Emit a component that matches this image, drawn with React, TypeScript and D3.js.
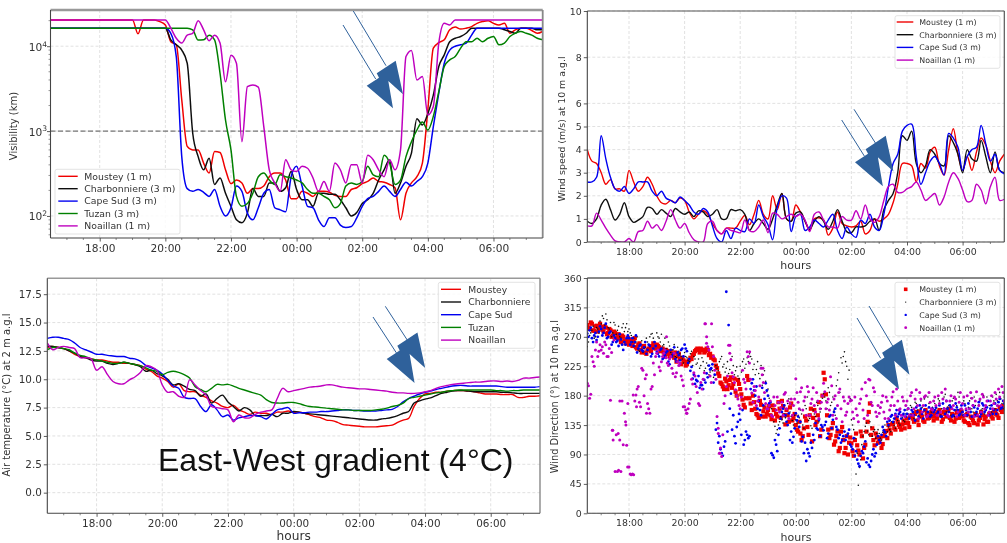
import React, { useEffect, useRef } from 'react';
import * as d3 from 'd3';

// every line series is one value per 10 min from 16:30 to 07:30, rows are clock hours
const visMoustey = [
  20400, 20400, 20400,
  20400, 20400, 20400, 20400, 20400, 20400,
  20400, 20400, 20400, 20400, 20400, 20400,
  20400, 14000, 20400, 20400, 20400, 19500,
  17800, 11300, 10400, 2340, 660, 600,
  600, 420, 320, 575, 560, 350,
  240, 265, 245, 185, 210, 210,
  225, 290, 320, 320, 265, 160,
  160, 195, 185, 170, 195, 195,
  190, 175, 170, 170, 205, 215,
  240, 255, 280, 255, 250, 235,
  215, 90, 185, 245, 290, 420,
  1790, 9500, 11000, 11900, 15600, 16800,
  15900, 16300, 17000, 18600, 19500, 20000,
  18600, 17800, 18600, 14200, 15600, 16300,
  16300, 15300, 14200, 14900,
];
const visCharbonniere = [
  16300, 16300, 16300,
  16300, 16300, 16300, 16300, 16300, 16300,
  16300, 16300, 16300, 16300, 16300, 16300,
  16300, 16300, 16300, 16300, 16300, 16300,
  16300, 11900, 10400, 9000, 6300, 950,
  500, 350, 480, 235, 280, 185,
  130, 90, 83, 108, 210, 170,
  170, 245, 245, 195, 215, 335,
  205, 155, 155, 130, 185, 185,
  180, 180, 155, 125, 100, 110,
  140, 155, 185, 265, 350, 460,
  185, 245, 385, 550, 1400, 1180,
  1600, 2650, 5760, 7900, 11300, 12400,
  13000, 14200, 16300, 16300, 16300, 16300,
  16300, 16300, 15600, 14900, 14200, 16300,
  16300, 16300, 15600, 15600,
];
const visCapeSud = [
  16300, 16300, 16300,
  16300, 16300, 16300, 16300, 16300, 16300,
  16300, 16300, 16300, 16300, 16300, 16300,
  16300, 16300, 16300, 16300, 16300, 16300,
  16300, 14200, 7550, 500, 210, 195,
  205, 190, 170, 205, 130, 100,
  125, 225, 195, 108, 90, 125,
  185, 205, 125, 118, 112, 290,
  385, 225, 130, 125, 90, 75,
  95, 95, 78, 73, 75, 95,
  130, 160, 170, 195, 225, 195,
  170, 205, 250, 225, 255, 290,
  420, 1130, 2800, 6300, 9000, 10000,
  10400, 10900, 13500, 16300, 16300, 16300,
  16300, 16300, 16300, 16300, 16300, 16300,
  16300, 16300, 16300, 16300,
];
const visTuzan = [
  16300, 16300, 16300,
  16300, 16300, 16300, 16300, 16300, 16300,
  16300, 16300, 16300, 16300, 16300, 16300,
  16300, 16300, 16300, 16300, 16300, 16300,
  16300, 16300, 16300, 16300, 16300, 15600,
  11800, 11900, 13500, 11900, 4800, 1350,
  600, 170, 130, 140, 185, 290,
  320, 265, 235, 305, 290, 280,
  265, 245, 205, 185, 185, 170,
  155, 125, 140, 225, 245, 235,
  255, 385, 305, 290, 520, 420,
  235, 265, 500, 750, 1030, 1280,
  1030, 1490, 2920, 5760, 6900, 7550,
  9500, 11300, 11300, 12400, 11300, 12400,
  13000, 10400, 10900, 13000, 14200, 14900,
  14200, 13500, 12400, 11900,
];
const visNoaillan = [
  20400, 20400, 20400,
  20400, 20400, 20400, 20400, 20400, 20400,
  20400, 20400, 20400, 20400, 20400, 20400,
  20400, 20400, 20400, 20400, 20400, 20400,
  20400, 16300, 12400, 10900, 13500, 14200,
  20000, 15600, 11600, 13500, 10900, 3800,
  7800, 6300, 750, 3340, 3500, 3300,
  1130, 350, 245, 195, 460, 350,
  335, 385, 365, 280, 195, 255,
  195, 420, 350, 245, 400, 400,
  245, 520, 460, 350, 290, 460,
  350, 600, 7550, 8900, 4000, 4400,
  1550, 1950, 10900, 18600, 17800, 20400,
  20400, 20400, 20400, 20400, 20400, 20400,
  20400, 20400, 20400, 20400, 20400, 20400,
  20400, 20400, 20400, 20400,
];

const windMoustey = [
  4.0, 3.5, 3.4,
  3.0, 2.5, 2.7, 2.3, 2.3, 2.2,
  3.1, 2.6, 2.2, 2.4, 2.8, 2.5,
  2.0, 1.7, 1.65, 1.8, 1.7, 1.9,
  1.8, 1.3, 1.0, 1.2, 1.35, 1.2,
  0.8, 0.5, 0.35, 0.6, 0.6, 0.6,
  0.9, 1.15, 0.75, 1.2, 1.8, 1.2,
  1.0, 2.0, 1.4, 2.1, 1.0, 0.9,
  1.6, 1.3, 0.9, 0.5, 1.0, 1.05,
  0.95, 0.3, 0.6, 1.3, 0.8, 0.7,
  0.65, 0.7, 0.9, 0.35, 0.5, 1.0,
  0.9, 1.0, 1.2, 1.7, 2.5, 3.4,
  3.4, 3.3, 2.6, 3.4, 3.2, 3.9,
  4.1, 3.3, 2.9, 4.0, 4.9, 3.8,
  3.1, 3.7, 3.1, 3.9, 4.5, 4.2,
  3.5, 3.0, 3.5, 3.8,
];
const windCharbonniere = [
  0.9, 0.8, 1.0,
  1.6, 1.85, 1.4, 0.95, 1.2, 1.7,
  1.1, 0.85, 0.95, 1.1, 1.5, 1.45,
  1.2, 1.4, 1.25, 1.1, 1.45, 1.3,
  1.2, 1.3, 1.1, 1.35, 1.3, 1.1,
  1.2, 1.4, 1.0, 1.0, 1.4, 1.35,
  1.4, 1.2, 0.5, 0.8, 1.0, 0.8,
  0.55, 1.0, 1.6, 2.1, 1.0, 0.9,
  1.25, 1.3, 0.9, 0.55, 0.9, 1.1,
  0.9, 0.55, 0.9, 1.4, 0.9, 0.45,
  0.4, 0.65, 0.65, 0.7, 0.9, 1.0,
  0.5, 1.4, 1.8, 2.1, 3.0, 4.6,
  4.4, 4.8, 3.4, 3.0, 3.3, 4.0,
  3.8, 3.4, 3.3, 4.6, 4.3, 3.8,
  3.0, 4.0, 3.6, 3.5, 4.4, 3.7,
  3.0, 3.9, 3.1, 3.0,
];
const windCapeSud = [
  2.6, 2.6, 2.8,
  4.6, 3.6, 2.8, 2.3, 2.2, 2.4,
  2.1, 2.3, 2.6, 2.6, 2.6, 2.2,
  2.0, 2.2, 1.9, 1.8, 1.7, 1.95,
  1.8, 1.6, 1.3, 1.2, 1.45, 1.3,
  0.7, 0.15, 0.0, 0.5, 0.15, 0.6,
  0.5, 0.45, 1.0, 0.8, 1.6, 1.1,
  0.75, 0.1, 1.5, 2.0, 1.9, 0.45,
  1.1, 1.2, 0.5, 0.65, 0.95, 0.8,
  0.65, 0.95, 1.2, 0.5, 0.15, 0.65,
  0.35, 0.2, 0.95, 0.8, 1.2, 0.65,
  0.5, 1.2, 2.4, 3.4, 3.8, 4.8,
  5.05, 5.1, 3.7, 2.5, 3.0, 3.5,
  3.7, 3.4, 2.9, 4.7, 4.5, 4.1,
  3.1, 3.7, 4.0, 4.1, 5.05, 4.25,
  3.5, 3.8, 3.1, 2.95,
];
const windNoaillan = [
  0.7, 0.7, 1.25,
  0.95, 0.6, 0.3, 0.05, 0.0, 0.0,
  0.15, 0.0, 0.45, 0.5, 0.9, 0.6,
  0.75, 0.5, 0.9, 1.4, 0.95, 0.6,
  0.8, 0.4, 0.1, 0.0, 0.0, 0.8,
  0.9, 0.5, 0.35, 0.6, 0.5, 0.45,
  0.4, 0.95, 0.5, 0.45, 0.65, 0.95,
  0.4, 1.25, 1.2, 1.0, 1.1, 1.2,
  1.1, 1.2, 0.95, 0.45, 1.2, 1.3,
  0.95, 0.65, 0.65, 0.6, 1.1, 0.95,
  0.95, 1.35, 1.0, 1.6, 1.0, 0.85,
  1.1, 1.8, 2.4, 2.5, 2.15, 2.15,
  2.3, 2.4, 2.6, 2.25, 1.8, 1.95,
  2.1, 1.6, 1.95, 2.6, 3.0, 2.75,
  2.25, 1.75, 1.8, 2.5, 2.25, 1.65,
  2.4, 2.8, 1.8, 1.85,
];

const tempMoustey = [
  12.8, 12.9, 12.8,
  12.7, 12.5, 12.2, 12.0, 11.9, 11.8,
  11.7, 11.7, 11.6, 11.5, 11.5, 11.4,
  11.4, 11.3, 11.2, 10.9, 10.7, 10.3,
  10.1, 9.8, 9.3, 9.6, 9.0, 8.9,
  8.9, 8.6, 8.4, 8.1, 7.9, 7.6,
  7.5, 7.7, 7.3, 7.1, 6.9, 7.1,
  7.0, 7.0, 6.9, 7.1, 7.1, 7.2,
  7.1, 7.1, 7.0, 6.85, 6.7, 6.6,
  6.4, 6.35, 6.2, 6.0, 5.95, 5.9,
  5.85, 5.8, 5.8, 5.8, 5.85, 5.9,
  5.95, 6.2, 6.4, 6.55, 7.6, 8.3,
  8.7, 8.75, 8.85, 8.85, 8.95, 9.0,
  9.0, 9.0, 8.95, 8.9, 8.8, 8.7,
  8.7, 8.7, 8.65, 8.65, 8.65, 8.4,
  8.4, 8.5, 8.5, 8.55,
];
const tempCharbonniere = [
  12.9, 12.9, 12.8,
  12.7, 12.5, 12.3, 12.0, 11.9, 11.7,
  11.6, 11.6, 11.4, 11.3, 11.4, 11.5,
  11.4, 11.3, 11.1, 10.7, 10.8, 10.5,
  10.3, 10.0, 9.5, 9.6, 9.4, 9.1,
  9.0, 8.5, 8.7, 7.9, 8.3, 8.6,
  8.0, 7.6, 7.2, 7.5, 7.3, 6.8,
  6.8, 6.8, 6.9, 6.7, 7.0, 7.0,
  7.15, 7.1, 7.0, 6.95, 6.9, 6.85,
  6.8, 6.75, 6.7, 6.65, 6.6, 6.55,
  6.5, 6.45, 6.4, 6.4, 6.5, 6.55,
  6.65, 6.8, 7.0, 7.15, 7.9, 8.1,
  8.25, 8.35, 8.55, 8.75, 8.85, 8.95,
  9.0, 9.0, 8.95, 8.9, 8.9, 8.9,
  8.9, 8.9, 8.85, 8.85, 8.8, 8.75,
  8.75, 8.75, 8.75, 8.75,
];
const tempCapeSud = [
  13.6, 13.7, 13.7,
  13.6, 13.5, 13.2, 12.8, 12.6, 12.4,
  12.2, 12.2, 12.1, 12.05, 12.0, 12.0,
  11.85, 11.8, 11.6, 11.2, 11.0, 10.8,
  10.45, 9.9, 9.4, 9.2, 8.4, 8.3,
  8.3, 7.6, 7.15, 7.75, 7.3, 6.7,
  6.85, 6.4, 6.6, 6.7, 6.8, 6.8,
  6.7, 6.5, 6.9, 7.3, 7.4, 7.5,
  7.0, 7.05, 7.05, 7.1, 7.1, 7.15,
  7.15, 7.2, 7.25, 7.3, 7.3, 7.25,
  7.25, 7.2, 7.2, 7.2, 7.25, 7.3,
  7.35, 7.6, 8.0, 8.3, 8.5, 8.7,
  8.85, 8.95, 9.1, 9.2, 9.3, 9.4,
  9.45, 9.45, 9.4, 9.4, 9.4, 9.4,
  9.4, 9.4, 9.35, 9.3, 9.3, 9.3,
  9.3, 9.3, 9.3, 9.35,
];
const tempTuzan = [
  12.6, 12.8, 12.8,
  12.7, 12.6, 12.3, 12.1, 12.0, 11.8,
  11.7, 11.6, 11.5, 11.4, 11.4, 11.5,
  11.4, 11.3, 11.2, 11.0, 10.8, 10.7,
  10.4, 10.6, 10.7, 10.6, 10.4, 10.1,
  9.35, 9.1, 8.9, 9.2, 9.55, 9.5,
  9.55, 9.4, 9.2, 9.05, 8.9, 8.75,
  8.6, 8.2, 7.95, 7.9, 7.9, 7.95,
  7.95, 7.85, 7.7, 7.6, 7.55, 7.5,
  7.45, 7.4, 7.35, 7.3, 7.3, 7.25,
  7.25, 7.25, 7.25, 7.3, 7.35, 7.45,
  7.6, 7.7, 7.9, 8.3, 8.4, 8.5,
  8.6, 8.7, 8.8, 8.85, 8.95, 9.0,
  9.05, 9.05, 9.05, 9.05, 9.05, 9.05,
  9.05, 9.0, 9.0, 8.95, 9.0, 9.0,
  9.05, 9.05, 9.05, 9.05,
];
const tempNoaillan = [
  13.2, 12.6, 12.8,
  12.9, 12.8, 12.7, 11.9, 11.9, 11.8,
  10.8, 11.1, 10.4, 9.8, 9.6, 9.6,
  9.95, 10.2, 10.6, 11.2, 11.1, 10.8,
  9.5, 8.85, 8.9, 8.5, 8.4, 9.95,
  9.5, 9.0, 8.6, 7.6, 7.5, 7.4,
  7.3, 6.25, 6.85, 6.6, 6.6, 6.9,
  7.1, 7.2, 7.3, 8.3, 9.2, 8.9,
  9.0, 9.1, 9.2, 9.3, 9.35, 9.4,
  9.5, 9.5, 9.4, 9.3, 9.25, 9.2,
  9.15, 9.15, 9.1, 9.05, 9.0, 8.95,
  8.85, 8.8, 8.8, 8.75, 8.75, 8.8,
  8.9, 9.0, 9.2, 9.35, 9.45, 9.55,
  9.6, 9.65, 9.7, 9.75, 9.75, 9.8,
  9.85, 9.85, 9.8, 9.85, 9.8, 9.9,
  10.1, 10.1, 10.15, 10.2,
];

// direction series are one value per 5 min, the *Mid lists sit halfway between those slots
const dirMoustey = [
  288, 282, 290, 279, 287, 283,
  285, 278, 284, 276, 280, 272, 276, 270, 268, 272, 264, 262,
  258, 266, 262, 254, 258, 250, 254, 246, 250, 252, 256, 258,
  258, 254, 250, 246, 250, 244, 248, 242, 246, 240, 236, 238,
  232, 228, 234, 236, 244, 250, 250, 252, 250, 248, 250, 244,
  240, 234, 222, 210, 198, 190, 202, 196, 208, 198, 186, 204,
  190, 174, 162, 210, 176, 158, 170, 152, 146, 166, 156, 148,
  158, 150, 165, 142, 148, 160, 172, 150, 158, 140, 168, 146,
  135, 125, 122, 118, 148, 132, 150, 110, 158, 140, 170, 128,
  215, 182, 128, 120, 138, 110, 125, 100, 132, 92, 118, 108,
  107, 88, 122, 96, 125, 84, 105, 140, 168, 130, 104, 116,
  110, 100, 118, 126, 135, 122, 138, 128, 140, 132, 136, 130,
  145, 132, 150, 140, 155, 135, 150, 142, 158, 145, 152, 148,
  153, 145, 158, 140, 155, 148, 160, 142, 150, 145, 156, 150,
  148, 140, 152, 135, 146, 138, 150, 142, 155, 136, 148, 140,
  153, 145, 158, 150, 162, 155, 160,
];
const dirMousteyMid = [
  284, 292, 280, 286, 278, 290,
  281, 286, 274, 282, 270, 278, 268, 274, 262, 270, 260, 268,
  262, 256, 268, 252, 260, 246, 256, 244, 252, 248, 260, 252,
  256, 248, 252, 242, 248, 240, 244, 238, 232, 244, 228, 234,
  226, 232, 238, 242, 248, 252, 246, 250, 246, 252, 242, 238,
  236, 226, 214, 200, 194, 206, 190, 204, 192, 206, 180, 198,
  182, 166, 176, 204, 168, 180, 160, 150, 172, 148, 162, 152,
  164, 144, 158, 152, 170, 146, 164, 136, 150, 162, 142, 152,
  128, 140, 112, 130, 142, 120, 160, 146, 135, 150, 118, 180,
  205, 150, 115, 130, 105, 118, 95, 125, 112, 100, 90, 116,
  95, 112, 104, 90, 118, 100, 125, 155, 120, 112, 122, 108,
  116, 106, 124, 115, 128, 136, 130, 145, 135, 128, 142, 138,
  138, 148, 145, 152, 142, 156, 148, 140, 152, 146, 155, 142,
  148, 155, 150, 144, 152, 158, 146, 152, 140, 154, 146, 156,
  142, 150, 138, 148, 142, 152, 136, 146, 150, 144, 140, 152,
  148, 156, 152, 146, 158, 164,
];
const dirCharbonniere = [
  255, 272, 280, 268, 284, 276,
  290, 298, 305, 284, 292, 276, 288, 280, 270, 284, 278, 290,
  282, 272, 268, 262, 250, 258, 246, 254, 262, 270, 275, 262,
  276, 268, 274, 258, 252, 262, 246, 250, 240, 254, 244, 236,
  246, 238, 232, 248, 240, 228, 236, 226, 232, 222, 226, 216,
  218, 212, 222, 232, 240, 228, 222, 214, 236, 226, 218, 210,
  225, 232, 222, 238, 244, 236, 228, 220, 214, 226, 212, 202,
  190, 170, 150, 133, 128, 140, 143, 152, 160, 175, 148, 135,
  143, 150, 158, 135, 165, 178, 145, 130, 152, 170, 140, 160,
  183, 172, 192, 165, 178, 150, 204, 185, 230, 247, 225, 219,
  143, 128, 60, 43, 82, 118, 133, 126, 140, 118, 128, 122,
  122, 112, 128, 118, 132, 125, 138, 130, 142, 135, 146, 140,
  158, 148, 162, 145, 168, 150, 172, 155, 165, 178, 150, 162,
  168, 152, 172, 160, 178, 155, 165, 150, 176, 158, 185, 160,
  150, 168, 155, 172, 160, 178, 152, 166, 158, 180, 162, 150,
  165, 178, 160, 172, 185, 168, 178,
];
const dirCharbonniereMid = [
  262, 276, 286, 270, 282, 294,
  302, 288, 296, 282, 270, 292, 274, 286, 268, 290, 284, 278,
  276, 262, 256, 270, 248, 264, 252, 268, 258, 274, 268, 256,
  270, 262, 256, 268, 248, 256, 242, 258, 238, 248, 240, 230,
  240, 234, 244, 226, 236, 230, 222, 238, 218, 230, 212, 220,
  208, 226, 218, 236, 224, 216, 232, 220, 240, 212, 224, 206,
  216, 236, 228, 232, 240, 220, 212, 232, 206, 196, 218, 186,
  176, 160, 140, 122, 135, 148, 138, 146, 168, 155, 142, 150,
  138, 146, 152, 130, 160, 142, 134, 158, 148, 165, 155, 176,
  178, 160, 185, 170, 158, 195, 215, 238, 240, 232, 205, 175,
  135, 115, 92, 70, 105, 125, 138, 120, 132, 125, 115, 128,
  115, 124, 135, 125, 128, 140, 134, 148, 138, 150, 142, 152,
  152, 165, 150, 170, 158, 146, 162, 175, 150, 168, 155, 172,
  160, 175, 150, 168, 182, 162, 155, 172, 148, 165, 178, 155,
  172, 150, 162, 176, 155, 165, 148, 172, 160, 152, 178, 165,
  155, 172, 182, 165, 175, 160,
];
const dirCapeSud = [
  275, 280, 268, 272, 265, 278,
  282, 276, 290, 270, 278, 262, 268, 264, 274, 258, 262, 268,
  268, 262, 256, 272, 252, 258, 248, 262, 250, 256, 244, 262,
  247, 240, 252, 238, 246, 232, 250, 244, 236, 246, 234, 252,
  258, 248, 236, 224, 212, 204, 210, 196, 190, 200, 208, 220,
  228, 212, 138, 118, 92, 102, 339, 288, 183, 150, 107, 140,
  143, 158, 112, 120, 118, 199, 188, 194, 172, 150, 165, 199,
  180, 170, 89, 112, 95, 130, 155, 165, 140, 153, 125, 117,
  153, 148, 140, 117, 108, 98, 87, 100, 112, 130, 143, 135,
  127, 140, 122, 150, 143, 160, 128, 120, 112, 125, 118, 128,
  102, 115, 95, 76, 88, 92, 110, 84, 71, 90, 87, 105,
  112, 120, 127, 118, 135, 148, 140, 152, 148, 155, 150, 158,
  152, 145, 158, 150, 162, 148, 160, 145, 165, 155, 148, 160,
  158, 152, 165, 148, 160, 172, 155, 162, 150, 168, 158, 152,
  155, 165, 150, 160, 148, 162, 155, 170, 152, 165, 158, 172,
  160, 152, 168, 158, 175, 162, 168,
];
const dirCapeSudMid = [
  270, 284, 262, 276, 270, 286,
  272, 284, 268, 276, 258, 272, 262, 256, 266, 250, 258, 272,
  258, 268, 262, 246, 256, 250, 254, 244, 258, 240, 252, 256,
  244, 250, 236, 242, 248, 228, 240, 254, 232, 242, 250, 240,
  252, 230, 218, 206, 198, 202, 192, 196, 204, 214, 226, 222,
  200, 128, 108, 98, 88, 110, 125, 160, 128, 118, 132, 152,
  120, 105, 125, 115, 190, 205, 180, 160, 158, 192, 175, 188,
  168, 92, 85, 105, 120, 145, 160, 150, 135, 112, 108, 130,
  142, 132, 110, 92, 80, 92, 108, 120, 138, 128, 118, 132,
  135, 115, 148, 130, 155, 132, 115, 108, 118, 112, 122, 105,
  98, 88, 82, 72, 95, 102, 78, 74, 80, 98, 92, 118,
  108, 132, 124, 140, 142, 150, 145, 158, 152, 145, 152, 148,
  160, 150, 155, 142, 155, 165, 152, 158, 148, 162, 150, 155,
  162, 155, 148, 168, 152, 160, 165, 148, 158, 162, 150, 165,
  150, 158, 168, 155, 165, 150, 160, 148, 168, 155, 162, 150,
  165, 158, 152, 170, 160, 172,
];
const dirNoaillan = [
  199, 176, 240, 225, 262, 248,
  250, 245, 258, 240, 173, 127, 64, 64, 112, 172, 153, 104,
  71, 59, 59, 181, 194, 163, 219, 206, 168, 153, 194, 212,
  245, 224, 232, 245, 238, 226, 240, 214, 209, 232, 229, 204,
  163, 153, 168, 205, 215, 194, 168, 200, 205, 290, 255, 210,
  255, 219, 148, 92, 87, 168, 194, 257, 235, 209, 189, 175,
  160, 219, 200, 247, 230, 184, 194, 165, 178, 222, 200, 168,
  160, 172, 148, 165, 178, 155, 170, 182, 160, 145, 175, 165,
  206, 170, 186, 158, 178, 194, 150, 175, 165, 185, 145, 170,
  199, 160, 175, 209, 150, 180, 165, 190, 140, 172, 155, 178,
  173, 145, 160, 140, 175, 158, 200, 150, 204, 165, 186, 148,
  153, 170, 155, 178, 145, 165, 186, 150, 172, 160, 178, 148,
  172, 150, 185, 160, 189, 145, 175, 165, 180, 150, 170, 158,
  178, 150, 168, 185, 160, 172, 148, 180, 165, 175, 155, 185,
  168, 150, 180, 160, 176, 148, 186, 165, 155, 178, 165, 150,
  172, 160, 185, 165, 178, 194, 172,
];
const dirNoaillanMid = [
  195, 182, 232, 250, 240, 258,
  255, 262, 240, 252, 246, 265, 120, 66, 64, 105, 140, 168,
  60, 60, 172, 190, 170, 222, 180, 212, 160, 190, 230, 240,
  250, 218, 240, 250, 230, 236, 222, 245, 215, 226, 210, 195,
  158, 160, 175, 198, 210, 185, 165, 190, 215, 270, 250, 200,
  240, 205, 130, 100, 120, 180, 210, 245, 215, 200, 180, 165,
  178, 205, 190, 240, 205, 170, 188, 172, 195, 212, 185, 160,
  165, 150, 178, 158, 170, 162, 150, 185, 172, 168, 150, 175,
  185, 160, 192, 172, 150, 186, 168, 192, 155, 172, 160, 180,
  186, 170, 158, 195, 175, 145, 185, 160, 178, 150, 168, 172,
  155, 178, 150, 168, 190, 145, 180, 205, 170, 192, 155, 165,
  162, 180, 145, 172, 158, 178, 165, 190, 158, 150, 172, 165,
  160, 180, 150, 175, 165, 185, 155, 178, 148, 185, 160, 172,
  165, 180, 155, 175, 190, 150, 172, 160, 178, 148, 170, 160,
  178, 160, 155, 185, 165, 172, 150, 175, 182, 160, 172, 155,
  180, 168, 175, 190, 165, 185,
];
// isolated Noaillan readings away from the regular slots
const dirNoaillanExtraHours = [17.4, 17.43, 17.61, 17.67, 17.89, 17.95, 18.15, 18.27, 18.63, 19.35, 19.95, 20.07, 20.73, 20.79, 20.97, 21.21, 21.27, 21.63, 22.34, 22.82];
const dirNoaillanExtraValues = [127, 112, 122, 172, 135, 71, 181, 163, 153, 270, 163, 153, 290, 260, 290, 122, 92, 257, 247, 222];

const hourTicks = [18, 20, 22, 24, 26, 28, 30];
const halfHourTicks = d3.range(17, 31.5, 0.5);
const windTicks = [0, 1, 2, 3, 4, 5, 6, 8, 10];
const tempTicks = [0, 2.5, 5, 7.5, 10, 12.5, 15, 17.5];
const dirTicks = [0, 45, 90, 135, 180, 225, 270, 315, 360];
const visTicks = [100, 1000, 10000];

const RED = '#f00000';
const BLACK = '#111111';
const BLUE = '#0000f0';
const GREEN = '#008000';
const MAGENTA = '#bf00bf';
const ARROW = '#2f619b';
const FONT = '"DejaVu Sans", sans-serif';

const hourFormat = (h: number) => `${String(h % 24).padStart(2, '0')}:00`;

type Line = { name: string; color: string; values: number[] };

function frame(g: any, r: any, x: any, y: any, yTicks: number[], o: any) {
  // grid first, then spines and tick labels
  const grid = g.append('g').attr('stroke', '#dedede').attr('stroke-width', 0.9).attr('stroke-dasharray', '3 2');
  hourTicks.forEach((h) => grid.append('line').attr('x1', x(h)).attr('x2', x(h)).attr('y1', r.top).attr('y2', r.bottom));
  yTicks.forEach((v) => grid.append('line').attr('x1', r.left).attr('x2', r.right).attr('y1', y(v)).attr('y2', y(v)));

  const xAxis = g.append('g').attr('transform', `translate(0,${r.bottom})`)
    .call(d3.axisBottom(x).tickValues(hourTicks).tickFormat(hourFormat as any).tickSize(3.5).tickPadding(o.xPad));
  xAxis.select('.domain').remove();
  xAxis.selectAll('line').attr('stroke', '#333').attr('stroke-width', 0.8);
  xAxis.selectAll('text').attr('fill', '#333').attr('font-size', o.tickSize).attr('font-family', FONT);

  const minor = g.append('g').attr('stroke', '#555').attr('stroke-width', 0.7);
  halfHourTicks.filter((h) => !hourTicks.includes(h)).forEach((h) =>
    minor.append('line').attr('x1', x(h)).attr('x2', x(h)).attr('y1', r.bottom).attr('y2', r.bottom + 2));

  const yAxis = g.append('g').attr('transform', `translate(${r.left},0)`)
    .call(d3.axisLeft(y).tickValues(yTicks).tickFormat(o.yFormat).tickSize(3.5).tickPadding(2));
  yAxis.select('.domain').remove();
  yAxis.selectAll('line').attr('stroke', '#333').attr('stroke-width', 0.8);
  yAxis.selectAll('text').attr('fill', '#333').attr('font-size', o.tickSize).attr('font-family', FONT);

  g.append('text')
    .attr('transform', `translate(${o.yLabelX},${o.yLabelY}) rotate(-90)`)
    .attr('text-anchor', 'middle').attr('font-size', o.labelSize).attr('font-family', FONT).attr('fill', '#333')
    .text(o.yLabel);
  if (o.xLabelY) {
    g.append('text').attr('x', o.xLabelX).attr('y', o.xLabelY)
      .attr('text-anchor', 'middle').attr('font-size', o.xLabelSize).attr('font-family', FONT).attr('fill', '#333')
      .text('hours');
  }
}

function spines(g: any, r: any, topColor: string, topWidth: number, rightColor: string, rightWidth: number) {
  g.append('line').attr('x1', r.left).attr('x2', r.right).attr('y1', r.top).attr('y2', r.top).attr('stroke', topColor).attr('stroke-width', topWidth);
  g.append('line').attr('x1', r.right).attr('x2', r.right).attr('y1', r.top).attr('y2', r.bottom).attr('stroke', rightColor).attr('stroke-width', rightWidth);
  g.append('line').attr('x1', r.left).attr('x2', r.left).attr('y1', r.top).attr('y2', r.bottom).attr('stroke', '#444').attr('stroke-width', 1.1);
  g.append('line').attr('x1', r.left).attr('x2', r.right).attr('y1', r.bottom).attr('y2', r.bottom).attr('stroke', '#444').attr('stroke-width', 1.1);
}

function drawLines(g: any, lines: Line[], x: any, y: any, clipId: string, width: number, curve: any) {
  const stepHour = d3.scaleLinear().domain([0, 90]).range([16.5, 31.5]);
  const path = d3.line<number>().x((_, i) => x(stepHour(i))).y((d) => y(d)).curve(curve);
  const plot = g.append('g').attr('clip-path', `url(#${clipId})`);
  lines.forEach((s) => {
    plot.append('path').attr('d', path(s.values)).attr('fill', 'none').attr('stroke', s.color).attr('stroke-width', width);
  });
}

function legend(g: any, box: any, names: string[], colors: string[], markers?: number[]) {
  g.append('rect').attr('x', box.x).attr('y', box.y).attr('width', box.w).attr('height', box.h)
    .attr('rx', 2).attr('fill', 'white').attr('fill-opacity', 0.85).attr('stroke', '#dcdcdc').attr('stroke-width', 0.8);
  const rowY = d3.scaleLinear().domain([0, 1]).range([box.firstRow, box.firstRow + box.rowStep]);
  names.forEach((name, i) => {
    const yy = rowY(i);
    if (markers) {
      const mid = (box.handle[0] + box.handle[1]) / 2;
      const m = markers[i];
      if (i === 0) g.append('rect').attr('x', mid - m / 2).attr('y', yy - m / 2).attr('width', m).attr('height', m).attr('fill', colors[i]);
      else g.append('circle').attr('cx', mid).attr('cy', yy).attr('r', m / 2).attr('fill', colors[i]);
    } else {
      g.append('line').attr('x1', box.handle[0]).attr('x2', box.handle[1]).attr('y1', yy).attr('y2', yy)
        .attr('stroke', colors[i]).attr('stroke-width', 1.4);
    }
    g.append('text').attr('x', box.textX).attr('y', yy + box.size * 0.36).attr('font-size', box.size)
      .attr('font-family', FONT).attr('fill', '#333').text(name);
  });
}

function arrow(g: any, tip: number[], sc: number, lines: number[][]) {
  const head = [[0, 0], [12.3, -8], [10, -12.4], [29, -25], [36.3, 8.6], [21.6, -4.7], [26.3, 22.6]];
  lines.forEach((l) => {
    g.append('line').attr('x1', l[0]).attr('y1', l[1]).attr('x2', l[2]).attr('y2', l[3]).attr('stroke', ARROW).attr('stroke-width', 1);
  });
  g.append('polygon')
    .attr('points', head.map((p) => `${tip[0] + p[0] * sc},${tip[1] + p[1] * sc}`).join(' '))
    .attr('fill', ARROW);
}

export default function App() {
  const ref = useRef<SVGSVGElement>(null);

  useEffect(() => {
    const svg = d3.select(ref.current);
    svg.selectAll('*').remove();

    const defs = svg.append('defs');
    defs.append('filter').attr('id', 'soft').attr('filterUnits', 'userSpaceOnUse')
      .attr('x', 0).attr('y', 0).attr('width', 1007).attr('height', 543)
      .append('feGaussianBlur').attr('stdDeviation', 0.5);
    const addClip = (id: string, r: any) =>
      defs.append('clipPath').attr('id', id).append('rect')
        .attr('x', r.left).attr('y', r.top).attr('width', r.right - r.left).attr('height', r.bottom - r.top);

    const g = svg.append('g').attr('filter', 'url(#soft)');

    // ---- visibility
    const r1 = { left: 50.5, right: 542.7, top: 10, bottom: 238 };
    addClip('c1', r1);
    const x1 = d3.scaleLinear().domain([16.5, 31.5]).range([r1.left, r1.right]);
    const y1 = d3.scaleLog().domain([55, 26700]).range([r1.bottom, r1.top]);
    frame(g, r1, x1, y1, visTicks, {
      xPad: 3, tickSize: 10.6, labelSize: 10, yLabel: 'Visibility (km)', yLabelX: 16.5, yLabelY: 126,
      yFormat: () => '',
    });
    visTicks.forEach((v) => {
      const t = g.append('text').attr('x', 47).attr('y', y1(v) + 4.5).attr('text-anchor', 'end')
        .attr('font-size', 10.6).attr('font-family', FONT).attr('fill', '#333');
      t.append('tspan').text('10');
      t.append('tspan').attr('font-size', 7.6).attr('dy', -4.2).text(String(Math.round(Math.log10(v))));
    });
    const logMinor = g.append('g').attr('stroke', '#555').attr('stroke-width', 0.6);
    [100, 1000, 10000].forEach((d) => d3.range(1, 10).forEach((k) => {
      const v = d * k * 0.1;
      if (k > 1 && v >= 55 && v <= 26700) logMinor.append('line').attr('x1', r1.left - 2).attr('x2', r1.left).attr('y1', y1(v)).attr('y2', y1(v));
    }));
    [20000].forEach((v) => logMinor.append('line').attr('x1', r1.left - 2).attr('x2', r1.left).attr('y1', y1(v)).attr('y2', y1(v)));
    g.append('line').attr('x1', r1.left).attr('x2', r1.right).attr('y1', y1(1000)).attr('y2', y1(1000))
      .attr('stroke', '#777').attr('stroke-width', 1.4).attr('stroke-dasharray', '5 2.5');
    drawLines(g, [
      { name: 'Moustey', color: RED, values: visMoustey },
      { name: 'Charbonniere', color: BLACK, values: visCharbonniere },
      { name: 'Cape Sud', color: BLUE, values: visCapeSud },
      { name: 'Tuzan', color: GREEN, values: visTuzan },
      { name: 'Noaillan', color: MAGENTA, values: visNoaillan },
    ], x1, y1, 'c1', 1.5, d3.curveMonotoneX);
    spines(g, r1, '#999', 2.4, '#888', 1.8);
    legend(g, { x: 55, y: 169.3, w: 125, h: 64.7, firstRow: 176.3, rowStep: 12.4, handle: [58.3, 77.7], textX: 84.3, size: 9.3 },
      ['Moustey (1 m)', 'Charbonniere (3 m)', 'Cape Sud (3 m)', 'Tuzan (3 m)', 'Noaillan (1 m)'],
      [RED, BLACK, BLUE, GREEN, MAGENTA]);

    // ---- wind speed
    const r2 = { left: 587.3, right: 1004.3, top: 11, bottom: 242 };
    addClip('c2', r2);
    const x2 = d3.scaleLinear().domain([16.5, 31.5]).range([r2.left, r2.right]);
    const y2 = d3.scaleLinear().domain([0, 10]).range([r2.bottom, r2.top]);
    frame(g, r2, x2, y2, windTicks, {
      xPad: 3, tickSize: 9.4, labelSize: 9.4, yLabel: 'Wind speed (m/s) at 10 m a.g.l', yLabelX: 564.5, yLabelY: 129,
      yFormat: (d: number) => String(d), xLabelY: 269, xLabelX: 795.7, xLabelSize: 11,
    });
    drawLines(g, [
      { name: 'Moustey', color: RED, values: windMoustey },
      { name: 'Charbonniere', color: BLACK, values: windCharbonniere },
      { name: 'Cape Sud', color: BLUE, values: windCapeSud },
      { name: 'Noaillan', color: MAGENTA, values: windNoaillan },
    ], x2, y2, 'c2', 1.4, d3.curveCatmullRom);
    spines(g, r2, '#555', 1.2, '#555', 1.2);
    legend(g, { x: 895, y: 15.7, w: 105, h: 52.6, firstRow: 22, rowStep: 12.7, handle: [896.7, 913.3], textX: 919.3, size: 7.9 },
      ['Moustey (1 m)', 'Charbonniere (3 m)', 'Cape Sud (3 m)', 'Noaillan (1 m)'],
      [RED, BLACK, BLUE, MAGENTA]);

    // ---- air temperature
    const r3 = { left: 47.3, right: 540, top: 278.3, bottom: 513.3 };
    addClip('c3', r3);
    const x3 = d3.scaleLinear().domain([16.5, 31.5]).range([r3.left, r3.right]);
    const y3 = d3.scaleLinear().domain([-1.82, 18.9]).range([r3.bottom, r3.top]);
    frame(g, r3, x3, y3, tempTicks, {
      xPad: 3, tickSize: 10.4, labelSize: 10, yLabel: 'Air temperature (°C) at 2 m a.g.l', yLabelX: 9.5, yLabelY: 395,
      yFormat: (d: number) => d.toFixed(1), xLabelY: 540, xLabelX: 293.7, xLabelSize: 12.2,
    });
    drawLines(g, [
      { name: 'Moustey', color: RED, values: tempMoustey },
      { name: 'Charbonniere', color: BLACK, values: tempCharbonniere },
      { name: 'Cape Sud', color: BLUE, values: tempCapeSud },
      { name: 'Tuzan', color: GREEN, values: tempTuzan },
      { name: 'Noaillan', color: MAGENTA, values: tempNoaillan },
    ], x3, y3, 'c3', 1.4, d3.curveCatmullRom);
    spines(g, r3, '#999', 1.6, '#888', 1.4);
    legend(g, { x: 438.3, y: 282.3, w: 96.7, h: 66, firstRow: 289.3, rowStep: 12.7, handle: [441, 461], textX: 468.3, size: 9.2 },
      ['Moustey', 'Charbonniere', 'Cape Sud', 'Tuzan', 'Noaillan'],
      [RED, BLACK, BLUE, GREEN, MAGENTA]);

    // ---- wind direction
    const r4 = { left: 587.3, right: 1004.3, top: 278, bottom: 513.3 };
    addClip('c4', r4);
    const x4 = d3.scaleLinear().domain([16.5, 31.5]).range([r4.left, r4.right]);
    const y4 = d3.scaleLinear().domain([0, 360]).range([r4.bottom, r4.top]);
    frame(g, r4, x4, y4, dirTicks, {
      xPad: 3, tickSize: 9.4, labelSize: 9.8, yLabel: 'Wind Direction (°) at 10 m a.g.l', yLabelX: 558, yLabelY: 396.7,
      yFormat: (d: number) => String(d), xLabelY: 540.5, xLabelX: 796, xLabelSize: 11,
    });
    const step5 = d3.scaleLinear().domain([0, 180]).range([16.5, 31.5]);
    const pts = g.append('g').attr('clip-path', 'url(#c4)');
    const squares = (values: number[], shift: number, cls: string) =>
      pts.selectAll(`rect.${cls}`).data(values).join('rect').attr('class', cls)
        .attr('x', (_: number, i: number) => x4(step5(i + shift)) - 2.1).attr('y', (d: number) => y4(d) - 2.1)
        .attr('width', 4.2).attr('height', 4.2).attr('fill', RED);
    const dots = (values: number[], shift: number, cls: string, rad: number, color: string) =>
      pts.selectAll(`circle.${cls}`).data(values).join('circle').attr('class', cls)
        .attr('cx', (_: number, i: number) => x4(step5(i + shift))).attr('cy', (d: number) => y4(d))
        .attr('r', rad).attr('fill', color);
    squares(dirMoustey, 0, 'm1');
    squares(dirMousteyMid, 0.5, 'm2');
    dots(dirCharbonniere, 0, 'c1', 0.8, BLACK);
    dots(dirCharbonniereMid, 0.5, 'c2', 0.8, BLACK);
    dots(dirCapeSud, 0, 'b1', 1.4, BLUE);
    dots(dirCapeSudMid, 0.5, 'b2', 1.4, BLUE);
    dots(dirNoaillan, 0, 'n1', 1.5, MAGENTA);
    dots(dirNoaillanMid, 0.5, 'n2', 1.5, MAGENTA);
    pts.selectAll('circle.e').data(dirNoaillanExtraValues).join('circle')
      .attr('class', 'e').attr('cx', (_: number, i: number) => x4(dirNoaillanExtraHours[i])).attr('cy', (d: number) => y4(d)).attr('r', 1.5).attr('fill', MAGENTA);
    spines(g, r4, '#888', 1.8, '#555', 1.2);
    legend(g, { x: 895, y: 282.3, w: 105, h: 53.4, firstRow: 289.3, rowStep: 12.8, handle: [896.7, 914.7], textX: 919.3, size: 7.9 },
      ['Moustey (1 m)', 'Charbonniere (3 m)', 'Cape Sud (3 m)', 'Noaillan (1 m)'],
      [RED, BLACK, BLUE, MAGENTA], [3.6, 1.4, 2.4, 2.8]);

    // ---- pasted annotations, crisp on top of the plots
    arrow(svg, [366.7, 85.7], 1, [[343, 25, 375.7, 79], [353.3, 11, 386, 65.7]]);
    arrow(svg, [855, 162.3], 1.06, [[841.7, 120, 864.3, 156], [854, 109.3, 876.7, 145]]);
    arrow(svg, [386.7, 359], 1.06, [[373, 317, 396.7, 353.3], [385.3, 306.3, 407.7, 340.7]]);
    arrow(svg, [871.7, 365.7], 1.04, [[857, 318, 880.7, 358.3], [869, 306, 892.7, 346]]);

    svg.append('text').attr('x', 158).attr('y', 471)
      .attr('font-family', '"Liberation Sans", Arial, sans-serif').attr('font-size', 32).attr('fill', '#111')
      .text('East-West gradient (4°C)');
  }, []);

  return (
    <svg
      ref={ref}
      width={1007}
      height={543}
      style={{ position: 'absolute', left: 0, top: 0, background: 'white', display: 'block' }}
    />
  );
}
